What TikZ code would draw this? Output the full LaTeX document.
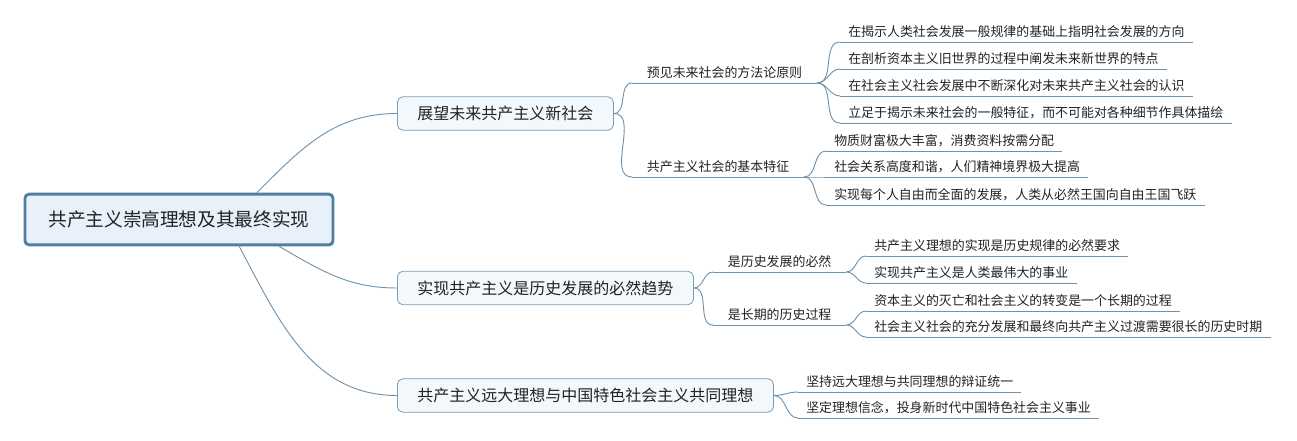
\documentclass[tikz,border=0pt]{standalone}
\usepackage{fontspec}
\setmainfont{Noto Sans CJK SC}
\definecolor{linecol}{HTML}{6F93AD}
\definecolor{rootcol}{HTML}{517FA0}
\definecolor{rootfill}{HTML}{E8F1FA}
\definecolor{topiccol}{HTML}{7B9DB6}
\definecolor{topicfill}{HTML}{F3F8FC}
\definecolor{txtcol}{HTML}{222222}
\tikzset{
  link/.style={draw=linecol, line width=0.7pt},
  rootbox/.style={draw=rootcol, line width=2.2pt, fill=rootfill, rounded corners=3pt,
    text=txtcol, font=\fontsize{14}{16}\selectfont, inner xsep=17.5pt, minimum height=38pt},
  topic/.style={draw=topiccol, line width=0.6pt, fill=topicfill, rounded corners=4pt,
    text=txtcol, font=\fontsize{12}{14}\selectfont, inner xsep=15pt, minimum height=25pt, anchor=west},
  subtopic/.style={text=txtcol, font=\fontsize{9.7}{11}\selectfont, inner xsep=11pt, inner ysep=2.3pt,
    text height=8pt, text depth=1.5pt, anchor=south west,
    append after command={(\tikzlastnode.south west) edge[link] (\tikzlastnode.south east)}},
  leaf/.style={subtopic, inner xsep=6pt},
}
\begin{document}
\begin{tikzpicture}[x=0.75pt,y=0.75pt]
\useasboundingbox (0,0) rectangle (1297,440);

\node[rootbox] (root) at (179,220.5) {共产主义崇高理想及其最终实现};

\node[topic] (future) at (397,326.5) {展望未来共产主义新社会};
\node[topic] (trend) at (397,152) {实现共产主义是历史发展的必然趋势};
\node[topic] (ideal) at (397,44.5) {共产主义远大理想与中国特色社会主义共同理想};

\draw[link] (root.19) to[out=45,in=180] (future.west);
\draw[link] (root.-15) to[out=-30,in=180] (trend.west);
\draw[link] (root.-24) to[out=-62,in=180] (ideal.west);

% first branch
\node[subtopic] (method) at (632,357) {预见未来社会的方法论原则};
\node[subtopic] (feature) at (632,263) {共产主义社会的基本特征};
\draw[link] (future.east) to[out=0,in=180] (method.south west);
\draw[link] (future.east) to[out=0,in=180] (feature.south west);

\node[leaf] (m1) at (840,398) {在揭示人类社会发展一般规律的基础上指明社会发展的方向};
\node[leaf] (m2) at (840,371) {在剖析资本主义旧世界的过程中阐发未来新世界的特点};
\node[leaf] (m3) at (840,344) {在社会主义社会发展中不断深化对未来共产主义社会的认识};
\node[leaf] (m4) at (840,317) {立足于揭示未来社会的一般特征，而不可能对各种细节作具体描绘};
\foreach \m in {m1,m2,m3,m4}
  \draw[link] (method.south east) to[out=0,in=180] (\m.south west);

\node[leaf] (f1) at (826,289) {物质财富极大丰富，消费资料按需分配};
\node[leaf] (f2) at (826,263) {社会关系高度和谐，人们精神境界极大提高};
\node[leaf] (f3) at (826,235) {实现每个人自由而全面的发展，人类从必然王国向自由王国飞跃};
\foreach \f in {f1,f2,f3}
  \draw[link] (feature.south east) to[out=0,in=180] (\f.south west);

% second branch
\node[subtopic] (must) at (713,168) {是历史发展的必然};
\node[subtopic] (long) at (713,115) {是长期的历史过程};
\draw[link] (trend.east) to[out=0,in=180] (must.south west);
\draw[link] (trend.east) to[out=0,in=180] (long.south west);

\node[leaf] (h1) at (866,184) {共产主义理想的实现是历史规律的必然要求};
\node[leaf] (h2) at (866,157) {实现共产主义是人类最伟大的事业};
\draw[link] (must.south east) to[out=0,in=180] (h1.south west);
\draw[link] (must.south east) to[out=0,in=180] (h2.south west);

\node[leaf] (l1) at (866,129) {资本主义的灭亡和社会主义的转变是一个长期的过程};
\node[leaf] (l2) at (866,103) {社会主义社会的充分发展和最终向共产主义过渡需要很长的历史时期};
\draw[link] (long.south east) to[out=0,in=180] (l1.south west);
\draw[link] (long.south east) to[out=0,in=180] (l2.south west);

% third branch
\node[leaf] (i1) at (798,48) {坚持远大理想与共同理想的辩证统一};
\node[leaf] (i2) at (798,22) {坚定理想信念，投身新时代中国特色社会主义事业};
\draw[link] (ideal.east) to[out=0,in=180] (i1.south west);
\draw[link] (ideal.east) to[out=0,in=180] (i2.south west);
\end{tikzpicture}
\end{document}
